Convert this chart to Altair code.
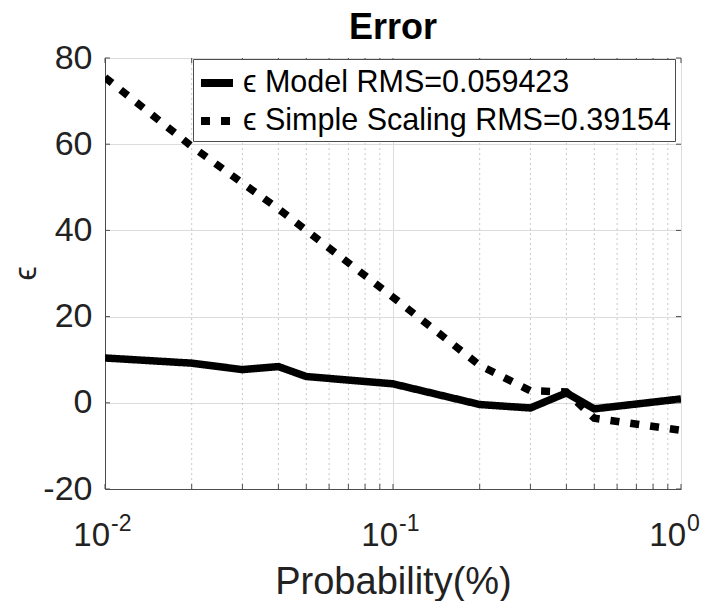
import altair as alt
import pandas as pd

# ---- data ----
prob = [0.01, 0.02, 0.03, 0.04, 0.05, 0.1, 0.2, 0.3, 0.4, 0.5, 1.0]
model_err = [10.4, 9.2, 7.7, 8.4, 6.1, 4.4, -0.4, -1.2, 2.3, -1.4, 0.9]
simple_err = [75.5, 59.5, 51.0, 45.0, 40.0, 24.5, 8.7, 2.8, 2.5, -3.6, -6.4]

model_label = "\u03f5 Model RMS=0.059423"
simple_label = "\u03f5 Simple Scaling RMS=0.39154"

x_major = [0.01, 0.1, 1.0]
x_base = ["10", "10", "10"]
x_exp = ["-2", "-1", "0"]
x_minor = [0.02, 0.03, 0.04, 0.05, 0.06, 0.07, 0.08, 0.09,
           0.2, 0.3, 0.4, 0.5, 0.6, 0.7, 0.8, 0.9]
y_ticks = [-20, 0, 20, 40, 60, 80]

FONT = "Liberation Sans"
AX = "#4d4d4d"
W, H = 576, 431

n = len(prob)
df = pd.DataFrame({
    "p": prob + prob,
    "e": model_err + simple_err,
    "s": [model_label] * n + [simple_label] * n,
})
minor_df = pd.DataFrame({"p": x_minor})
major_df = pd.DataFrame({"p": x_major, "b": x_base, "x": x_exp})
xt_df = pd.DataFrame({"p": x_major + x_minor})
yt_df = pd.DataFrame({"e": y_ticks})

xs = alt.Scale(type="log", domain=[0.01, 1], nice=False)
ys = alt.Scale(domain=[-20, 80], nice=False, zero=False)

x_axis = alt.Axis(
    values=x_major, labels=False, ticks=False, grid=True,
    gridColor="#dcdcdc", gridWidth=1, domainColor=AX,
    title="Probability(%)", titleFont=FONT, titleFontSize=38,
    titleFontWeight="normal", titleColor="#222222",
    titleY=104, titleBaseline="alphabetic")
y_axis = alt.Axis(
    values=y_ticks, ticks=False, tickSize=0, labelPadding=13,
    labelExpr="datum.value + ''",
    labelFont=FONT, labelFontSize=34, labelColor="#222222",
    grid=True, gridColor="#dcdcdc", gridWidth=1, domainColor=AX,
    title="\u03f5", titleFont=FONT, titleFontSize=32,
    titleFontWeight="normal", titleColor="#222222",
    titleX=-80, titleY=215, titleAngle=270, titleBaseline="middle")

X = alt.X("p:Q", scale=xs, axis=x_axis)
Y = alt.Y("e:Q", scale=ys, axis=y_axis)

lines = alt.Chart(df).mark_line(
    color="black", strokeWidth=7.5, strokeCap="butt", clip=True
).encode(
    x=X,
    y=Y,
    strokeDash=alt.StrokeDash("s:N", scale=alt.Scale(
        domain=[model_label, simple_label], range=[[1, 0], [9, 11]]),
        legend=alt.Legend(
            title=None, orient="none", legendX=88, legendY=1,
            symbolType="stroke", symbolSize=1024, symbolStrokeWidth=8,
            symbolStrokeColor="black", labelFont=FONT, labelFontSize=30.5,
            labelColor="black", labelLimit=700, labelOffset=6,
            strokeColor=AX, fillColor="white", padding=4, rowPadding=2,
            cornerRadius=0)),
)

minor_grid = alt.Chart(minor_df).mark_rule(
    color="#c8c8c8", strokeWidth=1, strokeDash=[2, 3]
).encode(x=X)

xt_bottom = alt.Chart(xt_df).mark_rule(color=AX, strokeWidth=1).encode(
    x=X, y=alt.value(H), y2=alt.value(H - 5))
xt_top = alt.Chart(xt_df).mark_rule(color=AX, strokeWidth=1).encode(
    x=X, y=alt.value(0), y2=alt.value(5))
yt_left = alt.Chart(yt_df).mark_rule(color=AX, strokeWidth=1).encode(
    y=Y, x=alt.value(0), x2=alt.value(5))
yt_right = alt.Chart(yt_df).mark_rule(color=AX, strokeWidth=1).encode(
    y=Y, x=alt.value(W - 5), x2=alt.value(W))

base_lbl = alt.Chart(major_df).mark_text(
    font=FONT, fontSize=33, color="#222222", align="right",
    baseline="alphabetic", dx=5
).encode(x=X, y=alt.value(H + 57), text="b:N")
exp_lbl = alt.Chart(major_df).mark_text(
    font=FONT, fontSize=23, color="#222222", align="left",
    baseline="alphabetic", dx=6
).encode(x=X, y=alt.value(H + 42), text="x:N")

chart = alt.layer(
    minor_grid, lines, xt_bottom, xt_top, yt_left, yt_right, base_lbl, exp_lbl
).properties(
    width=W, height=H,
    title=alt.Title("Error", font=FONT, fontSize=36, fontWeight="bold",
                    color="black", anchor="middle", offset=0, dy=6),
    autosize=alt.AutoSizeParams(type="none"),
    padding={"left": 97, "top": 50, "right": 23, "bottom": 112},
).configure_view(stroke=AX, strokeWidth=1).configure(background="white")

chart.save("out.html", embed_options={"renderer": "svg", "actions": False})
